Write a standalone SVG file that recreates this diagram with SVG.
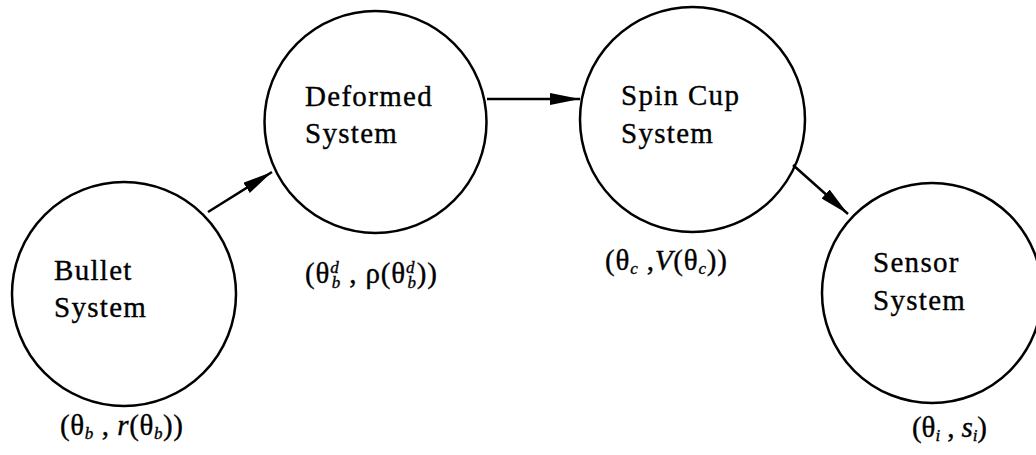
<svg xmlns="http://www.w3.org/2000/svg" width="1036" height="455" viewBox="0 0 1036 455">
<style>
.node circle{fill:none;stroke:#000;stroke-width:2.5}
.nt{font-family:"Liberation Serif","Times New Roman",serif;font-size:29px;letter-spacing:1.3px;fill:#000;stroke:#000;stroke-width:0.35}
.lbl{font-family:"Liberation Serif","Times New Roman",serif;font-size:29px;fill:#000;stroke:#000;stroke-width:0.35}
.it{font-style:italic}
.sc{font-style:italic;font-size:17px}
#connectors line{stroke:#000;stroke-width:2.5}
</style>
<defs>
<marker id="ah" markerUnits="userSpaceOnUse" markerWidth="30" markerHeight="12" refX="30" refY="6" orient="auto">
<path d="M0,0 L30,6 L0,12 z" fill="#000"/>
</marker>
</defs>
<rect width="1036" height="455" fill="#fff"/>
<g id="connectors">
<line x1="208" y1="212" x2="272" y2="172" marker-end="url(#ah)"/>
<line x1="487" y1="99" x2="580" y2="99" marker-end="url(#ah)"/>
<line x1="793" y1="165" x2="848" y2="214" marker-end="url(#ah)"/>
</g>
<g id="bullet" class="node">
<circle cx="124" cy="294" r="112"/>
<text class="nt" x="54" y="280">Bullet</text>
<text class="nt" x="54" y="317">System</text>
<text class="lbl" x="60" y="435" textLength="123">(θ<tspan class="sc" dy="4">b</tspan><tspan dy="-4"> , </tspan><tspan class="it">r</tspan>(θ<tspan class="sc" dy="4">b</tspan><tspan dy="-4">))</tspan></text>
</g>
<g id="deformed" class="node">
<circle cx="375.5" cy="122" r="111"/>
<text class="nt" x="305" y="106">Deformed</text>
<text class="nt" x="305" y="143">System</text>
<text class="lbl" x="305" y="283" textLength="132">(θ<tspan class="sc" dy="-10">d</tspan><tspan class="sc" dx="-8" dy="15">b</tspan><tspan dy="-5"> , ρ(θ</tspan><tspan class="sc" dy="-10">d</tspan><tspan class="sc" dx="-8" dy="15">b</tspan><tspan dy="-5">))</tspan></text>
</g>
<g id="spincup" class="node">
<circle cx="692.5" cy="119.5" r="112.5"/>
<text class="nt" x="621" y="105">Spin Cup</text>
<text class="nt" x="621" y="143">System</text>
<text class="lbl" x="605" y="270" textLength="122">(θ<tspan class="sc" dy="4">c</tspan><tspan dy="-4"> ,</tspan><tspan class="it">V</tspan>(θ<tspan class="sc" dy="4">c</tspan><tspan dy="-4">))</tspan></text>
</g>
<g id="sensor" class="node">
<circle cx="932" cy="293" r="110"/>
<text class="nt" x="873" y="272">Sensor</text>
<text class="nt" x="873" y="310">System</text>
<text class="lbl" x="912" y="437" textLength="75">(θ<tspan class="sc" dy="4">i</tspan><tspan dy="-4"> , </tspan><tspan class="it">s</tspan><tspan class="sc" dy="4">i</tspan><tspan dy="-4">)</tspan></text>
</g>
</svg>
